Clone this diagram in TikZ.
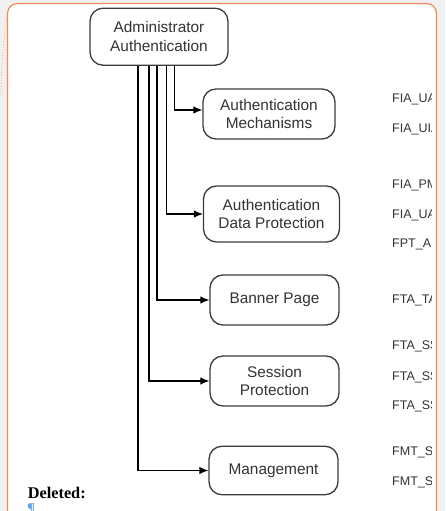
\documentclass[tikz,border=0pt]{standalone}
\usepackage{fontspec}
\setmainfont{Liberation Sans}
\newfontfamily\serifface{Liberation Serif}
\usetikzlibrary{arrows.meta}
\definecolor{frame orange}{RGB}{241,138,88}
\definecolor{page gray}{RGB}{240,240,240}
\definecolor{box gray}{RGB}{60,60,60}
\definecolor{text gray}{RGB}{51,51,51}
\definecolor{mark blue}{RGB}{100,165,230}

\tikzset{
  blockbox/.style={draw=box gray, line width=1.3pt, rounded corners=13pt,
    text=text gray, align=center, inner sep=0pt,
    minimum width=129pt, minimum height=50pt,
    font=\fontsize{15.4}{18.5}\selectfont},
  link/.style={line width=1.1pt, -{Latex[length=9pt,width=7.5pt]}},
  sfrlabel/.style={anchor=base west, inner sep=0pt, text=text gray,
    font=\fontsize{12.5}{14}\selectfont}
}

\begin{document}
\begin{tikzpicture}[x=1pt,y=-1pt]
			\useasboundingbox (0,0) rectangle (445,511);
			% page and comment frame
			\fill[page gray] (0,0) rectangle (445,511);
			\fill[white, rounded corners=10pt] (7.5,520) |- (436.5,3.5) -- (436.5,520) -- cycle;
			\draw[frame orange, line width=1.2pt, rounded corners=10pt]
				(7.5,520) |- (436.5,3.5) -- (436.5,520);
			\draw[frame orange!70, dotted, line width=0.8pt]
				(6.5,19) .. controls (3,45) and (1,70) .. (1,97);
			% boxes
			\node[blockbox, minimum width=138pt, minimum height=57pt] (admin) at (159,36.7) {Administrator\\Authentication};
			\node[blockbox, minimum width=132pt] (mech) at (269,114) {Authentication\\Mechanisms};
			\node[blockbox, minimum width=136pt, minimum height=56pt] (dataprot) at (271.5,214) {Authentication\\Data Protection};
			\node[blockbox] (banner) at (274.5,300) {Banner Page};
			\node[blockbox] (session) at (274.5,381) {Session\\Protection};
			\node[blockbox, minimum height=48.5pt] (mgmt) at (273.5,470.5) {Management};
			% links
			\draw[link] ([xshift=15.3pt]admin.south) |- ([yshift=4pt]mech.west);
			\draw[link] ([xshift=7.5pt]admin.south) |- (dataprot.west);
			\draw[link] ([xshift=-2pt]admin.south) |- (banner.west);
			\draw[link] ([xshift=-10pt]admin.south) |- (session.west);
			\draw[link] ([xshift=-21pt]admin.south) |- (mgmt.west);
			% requirement names, cut off at the frame
			\begin{scope}
				\clip (380,0) rectangle (431,511);
				\foreach \sfr/\y [count=\i] in {FIA\_UA/102.5, FIA\_UIA/132.5, FIA\_PM/188.5,
					FIA\_UA/218.5, FPT\_AP/247.5, FTA\_TA/303.5, FTA\_SS/349.5,
					FTA\_SS/380, FTA\_SS/409.5, FMT\_S/455.5, FMT\_S/485.5}
					\node[sfrlabel] (sfr\i) at (392,\y) {\sfr};
			\end{scope}
			% comment note
			\node[anchor=base west, inner sep=0pt, font=\serifface\bfseries\fontsize{16.3}{18}\selectfont] (deleted) at (27.6,498.5) {Deleted:};
			\node[anchor=base west, inner sep=0pt, text=mark blue, font=\serifface\bfseries\fontsize{15}{18}\selectfont] (pilcrow) at (27,513) {¶};
		\end{tikzpicture}
\end{document}
